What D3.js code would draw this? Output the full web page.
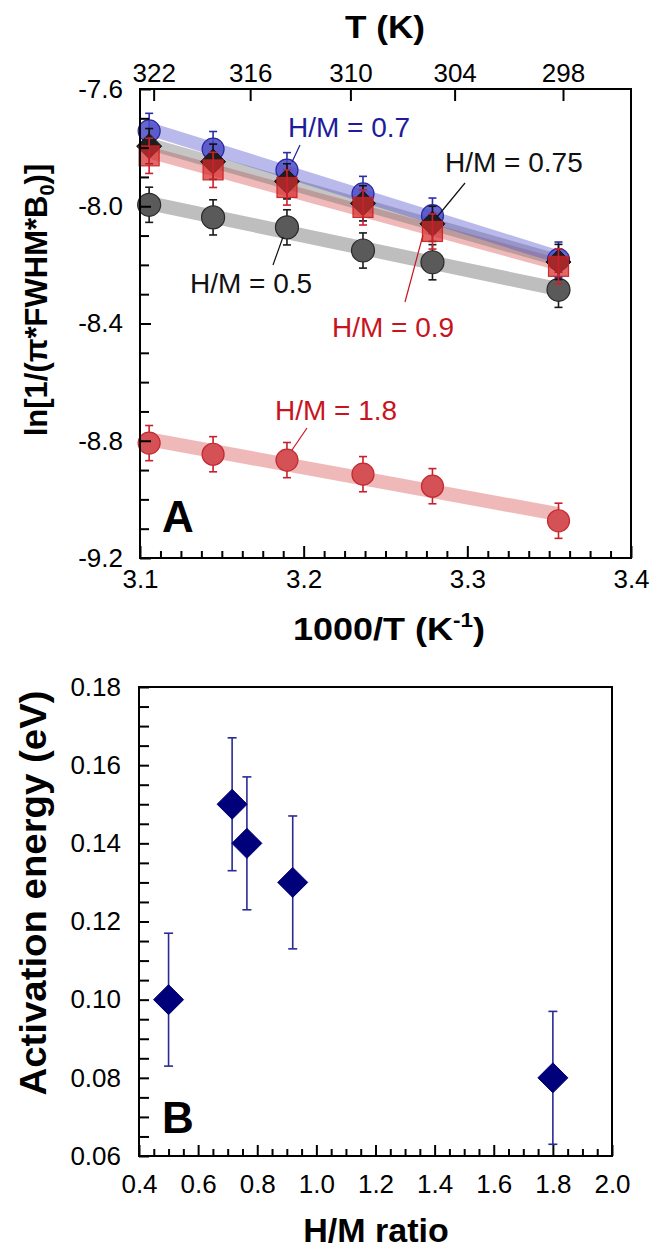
<!DOCTYPE html>
<html>
<head>
<meta charset="utf-8">
<script src="https://cdn.jsdelivr.net/npm/d3@7"></script>
<style>
  html, body { margin: 0; padding: 0; background: #fff; }
  svg { display: block; }
  text { font-family: "Liberation Sans", Arial, Helvetica, sans-serif; }
</style>
</head>
<body>
<svg id="chart" width="654" height="1250"></svg>
<script>
// ---------------- DATA ----------------
// Panel A: temperatures (K) of the measurements
const temps = [322, 318, 313.5, 309, 305, 298];
// ln[1/(pi*FWHM*B0)] for each H/M series
const lnHM05  = [-7.995, -8.038, -8.072, -8.151, -8.191, -8.285];
const lnHM07  = [-7.743, -7.805, -7.877, -7.958, -8.032, -8.182];
const lnHM075 = [-7.795, -7.848, -7.915, -7.990, -8.060, -8.190];
const lnHM09  = [-7.828, -7.876, -7.936, -8.004, -8.086, -8.205];
const lnHM18  = [-8.808, -8.846, -8.866, -8.914, -8.955, -9.073];
const lnErr = 0.06;
const xTicksA = [3.1, 3.2, 3.3, 3.4];
const yTicksA = [-7.6, -8.0, -8.4, -8.8, -9.2];
const topTicksT = [322, 316, 310, 304, 298];
const seriesLabels = ["H/M = 0.5", "H/M = 0.7", "H/M = 0.75", "H/M = 0.9", "H/M = 1.8"];

// Panel B
const hmRatio = [0.5, 0.715, 0.765, 0.92, 1.8];
const actEnergy = [0.100, 0.150, 0.140, 0.130, 0.080];
const actErr = [0.017, 0.017, 0.017, 0.017, 0.017];
const xTicksB = [0.4, 0.6, 0.8, 1.0, 1.2, 1.4, 1.6, 1.8, 2.0];
const yTicksB = [0.06, 0.08, 0.10, 0.12, 0.14, 0.16, 0.18];

// ---------------- HELPERS ----------------
const svg = d3.select("#chart");
const FONT = '"Liberation Sans", Arial, Helvetica, sans-serif';
const TICKFS = 26;

function fit(xs, ys) {
  const n = xs.length;
  const mx = d3.mean(xs), my = d3.mean(ys);
  let sxy = 0, sxx = 0;
  for (let i = 0; i < n; i++) { sxy += (xs[i]-mx)*(ys[i]-my); sxx += (xs[i]-mx)*(xs[i]-mx); }
  const b = sxy / sxx, a = my - b*mx;
  return x => a + b*x;
}
function range(a, b, step) {
  const out = [];
  const n = Math.round((b - a) / step);
  for (let i = 0; i <= n; i++) out.push(+(a + i*step).toFixed(6));
  return out;
}

// ---------------- PANEL A ----------------
const A = { l: 140, r: 631, t: 89, b: 558 };
const xA = d3.scaleLinear().domain([3.1, 3.4]).range([A.l, A.r]);
const yA = d3.scaleLinear().domain([-7.6, -9.2]).range([A.t, A.b]);
const xTop = d3.scaleLinear().domain([3.1, 3.4]).range([A.l + 4.5, A.r + 4.5]);
const invT = temps.map(t => 1000 / t);

const gA = svg.append("g");

// fit bands
const bands = [
  { ys: lnHM05, color: "rgba(120,120,120,0.48)", w: 14 },
  { ys: lnHM18, color: "rgba(215,70,70,0.38)", w: 14 },
  { ys: lnHM09, color: "rgba(215,70,70,0.38)", w: 12 },
  { ys: lnHM075, color: "rgba(110,110,110,0.40)", w: 12 },
  { ys: lnHM07, color: "rgba(80,80,205,0.40)", w: 13 }
];
bands.forEach(bd => {
  const f = fit(invT, bd.ys);
  const x0 = d3.min(invT), x1 = d3.max(invT);
  gA.append("line")
    .attr("x1", xA(x0)).attr("y1", yA(f(x0)))
    .attr("x2", xA(x1)).attr("y2", yA(f(x1)))
    .attr("stroke", bd.color).attr("stroke-width", bd.w);
});

function errBars(g, xs, ys, err, x, y, color, cap) {
  xs.forEach((xv, i) => {
    const e = Array.isArray(err) ? err[i] : err;
    const px = x(xv), yt = y(ys[i] + e), yb = y(ys[i] - e);
    g.append("line").attr("x1", px).attr("x2", px).attr("y1", yt).attr("y2", yb)
      .attr("stroke", color).attr("stroke-width", 1.6);
    [yt, yb].forEach(yy => g.append("line").attr("x1", px - cap).attr("x2", px + cap)
      .attr("y1", yy).attr("y2", yy).attr("stroke", color).attr("stroke-width", 1.6));
  });
}
function markers(g, xs, ys, x, y, shape, size, fill, stroke) {
  xs.forEach((xv, i) => {
    const px = x(xv), py = y(ys[i]);
    if (shape === "circle") {
      g.append("circle").attr("cx", px).attr("cy", py).attr("r", size)
        .attr("fill", fill).attr("stroke", stroke).attr("stroke-width", 1.2);
    } else if (shape === "square") {
      g.append("rect").attr("x", px - size).attr("y", py - size)
        .attr("width", 2*size).attr("height", 2*size)
        .attr("fill", fill).attr("stroke", stroke).attr("stroke-width", 1.2);
    } else {
      g.append("path")
        .attr("d", `M${px},${py-size}L${px+size},${py}L${px},${py+size}L${px-size},${py}Z`)
        .attr("fill", fill).attr("stroke", stroke).attr("stroke-width", 1);
    }
  });
}

// H/M = 0.5
errBars(gA, invT, lnHM05, lnErr, xA, yA, "#1a1a1a", 4);
markers(gA, invT, lnHM05, xA, yA, "circle", 11.5, "#5a5a5a", "#2a2a2a");
// H/M = 1.8
errBars(gA, invT, lnHM18, lnErr, xA, yA, "#c8202c", 4);
markers(gA, invT, lnHM18, xA, yA, "circle", 11, "#d45256", "#c42a30");
// H/M = 0.7
errBars(gA, invT, lnHM07, lnErr, xA, yA, "#2c2ca8", 4);
markers(gA, invT, lnHM07, xA, yA, "circle", 11, "rgba(75,75,200,0.85)", "#2a2aa0");
// H/M = 0.75
errBars(gA, invT, lnHM075, lnErr, xA, yA, "#111", 4);
markers(gA, invT, lnHM075, xA, yA, "diamond", 12.5, "#1e1e1e", "#111");
// H/M = 0.9
markers(gA, invT, lnHM09, xA, yA, "square", 10, "rgba(215,45,45,0.72)", "rgba(200,30,30,0.9)");
errBars(gA, invT, lnHM09, lnErr, xA, yA, "#cc2030", 4);

// axes panel A
function tickStyle(g) {
  g.select(".domain").remove();
  g.selectAll(".tick line").attr("stroke", "#000").attr("stroke-width", 2);
  g.selectAll(".tick text").attr("font-family", FONT).attr("fill", "#000");
}
const minorXA = range(3.1, 3.4, 0.0125).filter(v => !xTicksA.some(m => Math.abs(m - v) < 1e-6));
const minorYA = range(-9.2, -7.6, 0.1).filter(v => !yTicksA.some(m => Math.abs(m - v) < 1e-6));

svg.append("g").attr("transform", `translate(0,${A.b})`)
  .call(d3.axisBottom(xA).tickValues(minorXA).tickSize(-7).tickFormat(""))
  .call(tickStyle);
svg.append("g").attr("transform", `translate(0,${A.b})`)
  .call(d3.axisBottom(xA).tickValues(xTicksA).tickSize(-12).tickPadding(12).tickFormat(d3.format(".1f")))
  .call(tickStyle).selectAll("text").attr("font-size", TICKFS);
svg.append("g").attr("transform", `translate(${A.l},0)`)
  .call(d3.axisLeft(yA).tickValues(minorYA).tickSize(-9).tickFormat(""))
  .call(tickStyle);
svg.append("g").attr("transform", `translate(${A.l},0)`)
  .call(d3.axisLeft(yA).tickValues(yTicksA).tickSize(-11).tickPadding(17).tickFormat(d3.format(".1f")))
  .call(tickStyle).selectAll("text").attr("font-size", TICKFS).text(d => d3.format(".1f")(d).replace("−", "-"));
svg.append("g").attr("transform", `translate(0,${A.t})`)
  .call(d3.axisTop(xTop).tickValues(topTicksT.map(t => 1000 / t)).tickSize(-12).tickPadding(7)
    .tickFormat((d, i) => String(topTicksT[i])))
  .call(tickStyle).selectAll("text").attr("font-size", TICKFS);

svg.append("rect").attr("x", A.l).attr("y", A.t).attr("width", A.r - A.l).attr("height", A.b - A.t)
  .attr("fill", "none").attr("stroke", "#000").attr("stroke-width", 2);

// titles panel A
svg.append("text").attr("x", 385).attr("y", 38).attr("text-anchor", "middle")
  .attr("font-size", 32).attr("font-weight", "bold").attr("textLength", 80)
  .attr("lengthAdjust", "spacingAndGlyphs").text("T (K)");
const xt = svg.append("text").attr("x", 293).attr("y", 640)
  .attr("font-size", 32).attr("font-weight", "bold")
  .attr("textLength", 192).attr("lengthAdjust", "spacingAndGlyphs");
xt.append("tspan").text("1000/T (K");
xt.append("tspan").attr("font-size", 20).attr("dy", -13).text("-1");
xt.append("tspan").attr("dy", 13).text(")");

const yt = svg.append("text").attr("transform", "translate(47,300) rotate(-90)")
  .attr("text-anchor", "middle").attr("font-size", 31).attr("font-weight", "bold");
yt.append("tspan").text("ln[1/(π*FWHM*B");
yt.append("tspan").attr("font-size", 20).attr("dy", 7).text("0");
yt.append("tspan").attr("dy", -7).text(")]");

svg.append("text").attr("x", 162).attr("y", 532).attr("font-size", 44)
  .attr("font-weight", "bold").text("A");

// annotations
const annA = [
  { text: seriesLabels[0], x: 190, y: 293, color: "#111", lx1: 273, ly1: 265, lx2: 283, ly2: 237 },
  { text: seriesLabels[1], x: 288, y: 137, color: "#1c1c9c", lx1: 300, ly1: 145, lx2: 292, ly2: 162 },
  { text: seriesLabels[2], x: 445, y: 172, color: "#111", lx1: 465, ly1: 183, lx2: 437, ly2: 217 },
  { text: seriesLabels[3], x: 332, y: 337, color: "#c8141e", lx1: 405, ly1: 302, lx2: 423, ly2: 235 },
  { text: seriesLabels[4], x: 275, y: 420, color: "#c8141e", lx1: 307, ly1: 428, lx2: 292, ly2: 450 }
];
annA.forEach(a => {
  svg.append("line").attr("x1", a.lx1).attr("y1", a.ly1).attr("x2", a.lx2).attr("y2", a.ly2)
    .attr("stroke", a.color).attr("stroke-width", 1.2);
  svg.append("text").attr("x", a.x).attr("y", a.y).attr("font-size", 28)
    .attr("fill", a.color).text(a.text);
});

// ---------------- PANEL B ----------------
const B = { l: 139, r: 612, t: 687, b: 1156 };
const xB = d3.scaleLinear().domain([0.4, 2.0]).range([B.l, B.r]);
const yB = d3.scaleLinear().domain([0.06, 0.18]).range([B.b, B.t]);
const gB = svg.append("g");

errBars(gB, hmRatio, actEnergy, actErr, xB, yB, "#2a2a96", 4.5);
markers(gB, hmRatio, actEnergy, xB, yB, "diamond", 15, "#00007a", "#00007a");

const minorXB = range(0.4, 2.0, 0.05).filter(v => !xTicksB.some(m => Math.abs(m - v) < 1e-6));
const minorYB = range(0.06, 0.18, 0.005).filter(v => !yTicksB.some(m => Math.abs(m - v) < 1e-6));
svg.append("g").attr("transform", `translate(0,${B.b})`)
  .call(d3.axisBottom(xB).tickValues(minorXB).tickSize(-7).tickFormat(""))
  .call(tickStyle);
svg.append("g").attr("transform", `translate(0,${B.b})`)
  .call(d3.axisBottom(xB).tickValues(xTicksB).tickSize(-11).tickPadding(19).tickFormat(d3.format(".1f")))
  .call(tickStyle).selectAll("text").attr("font-size", TICKFS);
svg.append("g").attr("transform", `translate(${B.l},0)`)
  .call(d3.axisLeft(yB).tickValues(minorYB).tickSize(-10).tickFormat(""))
  .call(tickStyle);
svg.append("g").attr("transform", `translate(${B.l},0)`)
  .call(d3.axisLeft(yB).tickValues(yTicksB).tickSize(-10).tickPadding(18).tickFormat(d3.format(".2f")))
  .call(tickStyle).selectAll("text").attr("font-size", TICKFS);

svg.append("rect").attr("x", B.l).attr("y", B.t).attr("width", B.r - B.l).attr("height", B.b - B.t)
  .attr("fill", "none").attr("stroke", "#000").attr("stroke-width", 2);

svg.append("text").attr("x", 376).attr("y", 1242).attr("text-anchor", "middle")
  .attr("font-size", 34).attr("font-weight", "bold").text("H/M ratio");
svg.append("text").attr("transform", "translate(46,893) rotate(-90)")
  .attr("text-anchor", "middle").attr("font-size", 37).attr("font-weight", "bold")
  .attr("textLength", 405).attr("lengthAdjust", "spacingAndGlyphs")
  .text("Activation energy (eV)");
svg.append("text").attr("x", 162).attr("y", 1133).attr("font-size", 44)
  .attr("font-weight", "bold").text("B");
</script>
</body>
</html>
